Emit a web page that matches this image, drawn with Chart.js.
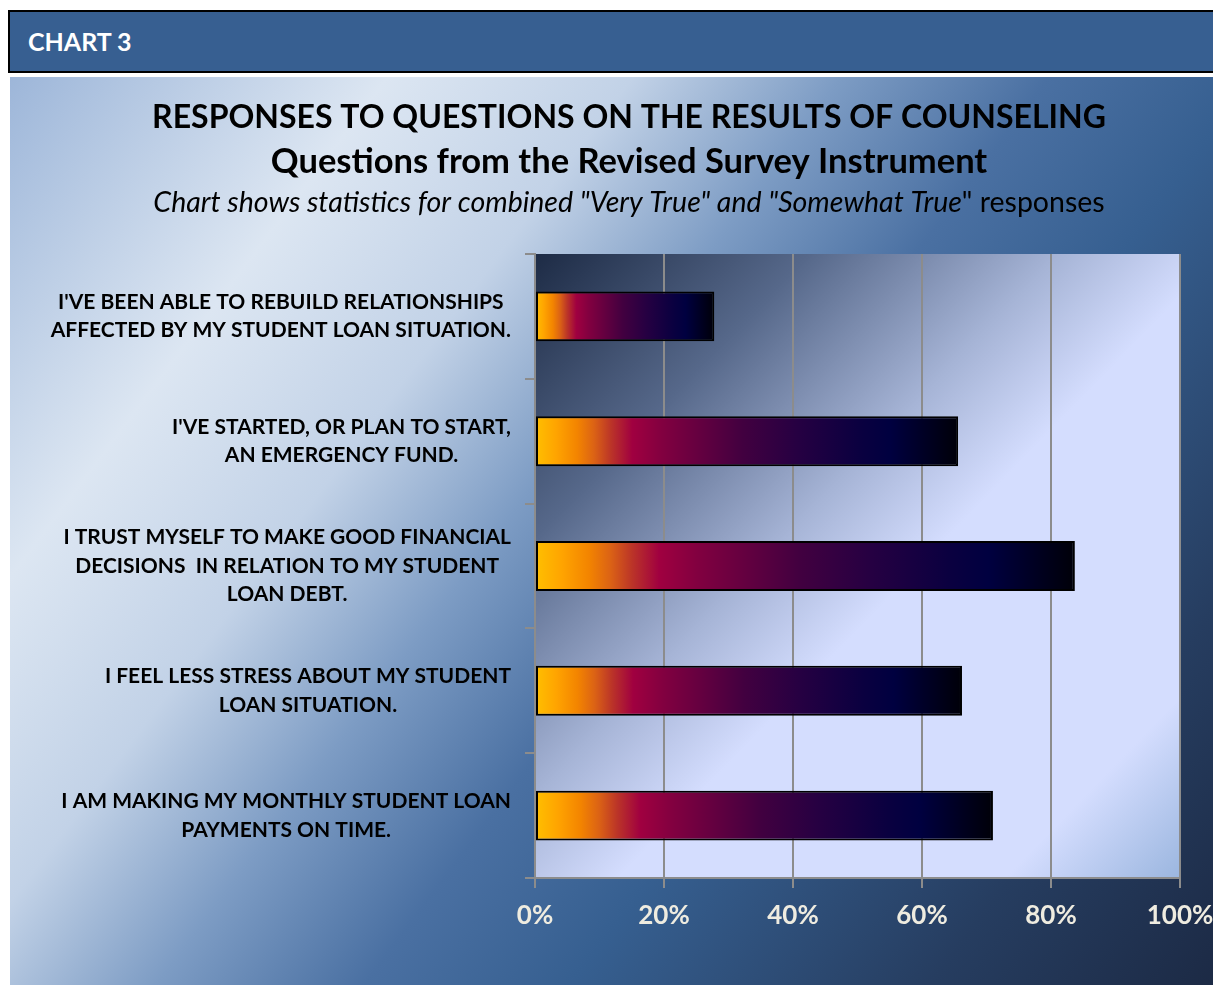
<!DOCTYPE html>
<html>
<head>
<meta charset="utf-8">
<script src="https://cdn.jsdelivr.net/npm/chart.js@4.4.0/dist/chart.umd.min.js"></script>
<style>
  html, body { margin: 0; padding: 0; background: #fff; overflow: hidden; }
  body { width: 1213px; height: 985px; position: relative; }
  #head {
    position: absolute; left: 8px; top: 10px; width: 1220px; height: 59px;
    background: #375f91; border: 2px solid #000; box-sizing: content-box;
    color: #fff; font: bold 25px Lato, sans-serif; line-height: 59px; padding-left: 18px;
  }
  #chartBox { position: absolute; left: 10px; top: 77px; width: 1203px; height: 908px; }
</style>
</head>
<body>
<div id="head">CHART 3</div>
<div id="chartBox"><canvas id="resultsChart" width="1203" height="908"></canvas></div>
<script>
// data
const questions = [
  ["I'VE BEEN ABLE TO REBUILD RELATIONSHIPS", "AFFECTED BY MY STUDENT LOAN SITUATION."],
  ["I'VE STARTED, OR PLAN TO START,", "AN EMERGENCY FUND."],
  ["I TRUST MYSELF TO MAKE GOOD FINANCIAL", "DECISIONS  IN RELATION TO MY STUDENT", "LOAN DEBT."],
  ["I FEEL LESS STRESS ABOUT MY STUDENT", "LOAN SITUATION."],
  ["I AM MAKING MY MONTHLY STUDENT LOAN", "PAYMENTS ON TIME."]
];
const percentTrue = [27.8, 65.6, 83.7, 66.2, 71.0];
const titleLines = ['RESPONSES TO QUESTIONS ON THE RESULTS OF COUNSELING', 'Questions from the Revised Survey Instrument'];
const subtitleItalic = 'Chart shows statistics for combined "Very True" and "Somewhat True';
const subtitlePlain = '" responses';

const FONT = 'Lato, Carlito, sans-serif';

// backgrounds + texts drawn around the chart
const decor = {
  id: 'decor',
  beforeDraw(chart) {
    const c = chart.ctx, w = chart.width, h = chart.height, a = chart.chartArea;
    c.save();
    let g = c.createLinearGradient(0, 0, w, h);
    g.addColorStop(0, '#9db6d9');
    g.addColorStop(0.2, '#dce6f2');
    g.addColorStop(0.33, '#c2d2e7');
    g.addColorStop(0.44, '#7d9cc4');
    g.addColorStop(0.55, '#4a70a2');
    g.addColorStop(0.66, '#365f90');
    g.addColorStop(0.85, '#263d60');
    g.addColorStop(1, '#1c2a45');
    c.fillStyle = g;
    c.fillRect(0, 0, w, h);

    g = c.createLinearGradient(a.left, a.top, a.right, a.bottom);
    g.addColorStop(0, '#1d2b45');
    g.addColorStop(0.22, '#56688a');
    g.addColorStop(0.42, '#a6b4d6');
    g.addColorStop(0.55, '#d4ddfe');
    g.addColorStop(0.86, '#d4ddfe');
    g.addColorStop(1, '#9bb6df');
    c.fillStyle = g;
    c.fillRect(a.left, a.top, a.right - a.left, a.bottom - a.top);
    c.restore();
  },
  afterDraw(chart) {
    const c = chart.ctx, cx = 619;
    c.save();
    c.fillStyle = '#000';
    c.textBaseline = 'middle';
    c.textAlign = 'center';
    c.font = 'bold 32px ' + FONT;
    c.fillText(titleLines[0], cx, 41);
    c.font = 'bold 34.5px ' + FONT;
    c.fillText(titleLines[1], cx, 85);

    c.textAlign = 'left';
    c.font = 'italic 28.5px ' + FONT;
    const w1 = c.measureText(subtitleItalic).width;
    c.font = '28.5px ' + FONT;
    const w2 = c.measureText(subtitlePlain).width;
    let x = cx - (w1 + w2) / 2;
    c.font = 'italic 28.5px ' + FONT;
    c.fillText(subtitleItalic, x, 126);
    c.font = '28.5px ' + FONT;
    c.fillText(subtitlePlain, x + w1, 126);

    // category labels: each block right-aligned, lines centred inside it
    const y = chart.scales.y;
    c.font = 'bold 21px ' + FONT;
    c.textAlign = 'center';
    const right = 501, lh = 28.5;
    questions.forEach((lines, i) => {
      const widest = Math.max(...lines.map(l => c.measureText(l).width));
      const mid = y.getPixelForValue(i);
      const top = mid - (lines.length - 1) * lh / 2;
      lines.forEach((l, j) => c.fillText(l, right - widest / 2, top + j * lh));
    });
    c.restore();
  }
};

function barGradient(ctx) {
  const chart = ctx.chart, xs = chart.scales.x;
  if (!xs || ctx.raw == null) return '#800040';
  const x0 = xs.getPixelForValue(0), x1 = xs.getPixelForValue(ctx.raw);
  if (!isFinite(x0) || !isFinite(x1)) return '#800040';
  const g = chart.ctx.createLinearGradient(x0, 0, x1, 0);
  g.addColorStop(0, '#ffc000');
  g.addColorStop(0.05, '#ffa400');
  g.addColorStop(0.1, '#f38400');
  g.addColorStop(0.14, '#db6215');
  g.addColorStop(0.18, '#bb3428');
  g.addColorStop(0.23, '#a00040');
  g.addColorStop(0.3, '#820040');
  g.addColorStop(0.49, '#420040');
  g.addColorStop(0.62, '#260042');
  g.addColorStop(0.77, '#0a0040');
  g.addColorStop(0.84, '#000040');
  g.addColorStop(1, '#000008');
  return g;
}

new Chart(document.getElementById('resultsChart'), {
  type: 'bar',
  data: {
    labels: questions,
    datasets: [{
      data: percentTrue,
      backgroundColor: barGradient,
      borderColor: '#000',
      borderWidth: 2,
      borderSkipped: false,
      barPercentage: 0.4,
      categoryPercentage: 1
    }]
  },
  options: {
    indexAxis: 'y',
    responsive: false,
    animation: false,
    devicePixelRatio: 1,
    layout: { padding: { top: 177, right: 33, left: 0, bottom: 0 } },
    plugins: { legend: { display: false }, tooltip: { enabled: false } },
    scales: {
      x: {
        min: 0,
        max: 100,
        afterFit(s) { s.height = 107; s.paddingLeft = 0; s.paddingRight = 0; },
        ticks: {
          stepSize: 20,
          padding: 12,
          color: '#efece0',
          font: { family: FONT, size: 26, weight: 'bold' },
          callback: v => v + '%'
        },
        grid: { color: '#8c8c8c', lineWidth: 2, tickLength: 10 },
        border: { color: '#8c8c8c', width: 2 }
      },
      y: {
        afterFit(s) { s.width = 525; },
        ticks: { display: false },
        grid: { drawOnChartArea: false, color: '#8c8c8c', lineWidth: 2, tickLength: 10, offset: true },
        border: { color: '#8c8c8c', width: 2 }
      }
    }
  },
  plugins: [decor]
});
</script>
</body>
</html>
